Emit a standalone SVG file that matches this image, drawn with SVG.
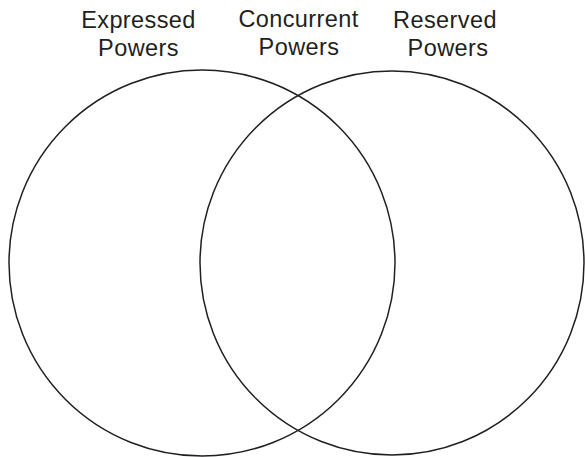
<svg xmlns="http://www.w3.org/2000/svg" width="585" height="457" viewBox="0 0 585 457">
<style>
.lbl{font-family:"Liberation Sans",Arial,sans-serif;font-size:23.5px;letter-spacing:0.4px;fill:#231f20;text-anchor:middle}
.c{fill:none;stroke:#231f20;stroke-width:1.5}
</style>
<rect width="585" height="457" fill="#fff"/>
<g id="expressed">
<circle class="c" cx="202" cy="263" r="193"/>
<text class="lbl" x="138.5" y="27.5">Expressed</text>
<text class="lbl" x="138.5" y="56">Powers</text>
</g>
<g id="concurrent">
<text class="lbl" x="298.5" y="26.5">Concurrent</text>
<text class="lbl" x="299" y="54.5">Powers</text>
</g>
<g id="reserved">
<circle class="c" cx="392" cy="263" r="192"/>
<text class="lbl" x="445" y="27.5">Reserved</text>
<text class="lbl" x="448" y="56">Powers</text>
</g>
<g id="connectors"></g>
</svg>
